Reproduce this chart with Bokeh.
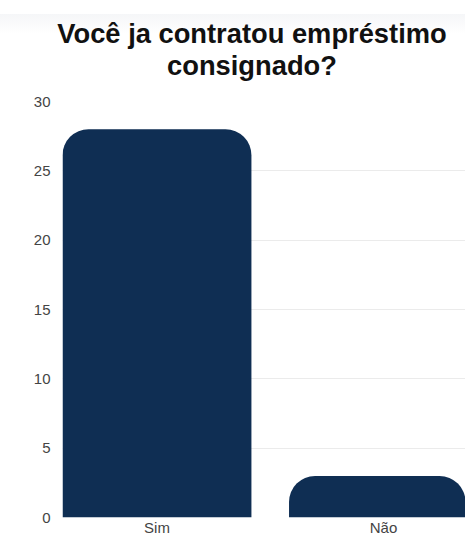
from bokeh.plotting import figure
from bokeh.models import Range1d, ColumnDataSource, FixedTicker, Div
from bokeh.layouts import column
from bokeh.embed import file_html
from bokeh.resources import INLINE

# Data
categories = ["Sim", "Não"]
counts = [28, 3]
y_ticks = [0, 5, 10, 15, 20, 25, 30]
title_lines = ["Você ja contratou empréstimo", "consignado?"]

positions = [i + 0.5 for i in range(len(categories))]
src = ColumnDataSource(dict(x=positions, top=counts, cat=categories))

title_html = (
    '<div style="box-sizing:content-box; width:426px; height:72px; '
    'padding:18px 0 0 39px; text-align:center; '
    'background:linear-gradient(to bottom, #ffffff 0px, #ffffff 14px, '
    '#f5f6f8 14px, #ffffff 34px); '
    "font-family:'Liberation Sans', Arial, sans-serif; font-weight:bold; "
    'font-size:27.3px; line-height:32px; color:#111111; white-space:nowrap;">'
    + "<br>".join(title_lines) + "</div>"
)
header = Div(text=title_html, width=465, height=90, margin=(0, 0, 0, 0))

p = figure(width=465, height=448, output_backend="svg", toolbar_location=None,
           x_range=Range1d(0.083, 1.862), y_range=Range1d(0, 30),
           min_border_left=62, min_border_right=0, min_border_top=11,
           min_border_bottom=21, margin=(0, 0, 0, 0))

p.vbar(x="x", top="top", width=0.834, source=src, color="#0f2e53",
       line_color=None, border_radius=(26, 26, 0, 0))

p.xaxis.ticker = FixedTicker(ticks=positions)
p.xaxis.major_label_overrides = {pos: c for pos, c in zip(positions, categories)}
p.yaxis.ticker = FixedTicker(ticks=y_ticks)

for ax in (p.xaxis[0], p.yaxis[0]):
    ax.axis_line_color = None
    ax.major_tick_line_color = None
    ax.minor_tick_line_color = None
    ax.major_tick_out = 0
    ax.major_tick_in = 0
    ax.major_label_text_font = "Liberation Sans"
    ax.major_label_text_font_size = "15px"
    ax.major_label_text_color = "#444444"
p.xaxis.major_label_standoff = 1
p.yaxis.major_label_standoff = 12

p.xgrid.grid_line_color = None
p.ygrid.grid_line_color = "#ebebeb"
p.ygrid.grid_line_width = 1
p.outline_line_color = None

layout = column(header, p, spacing=0)
open("out.html", "w").write(file_html(layout, INLINE))
